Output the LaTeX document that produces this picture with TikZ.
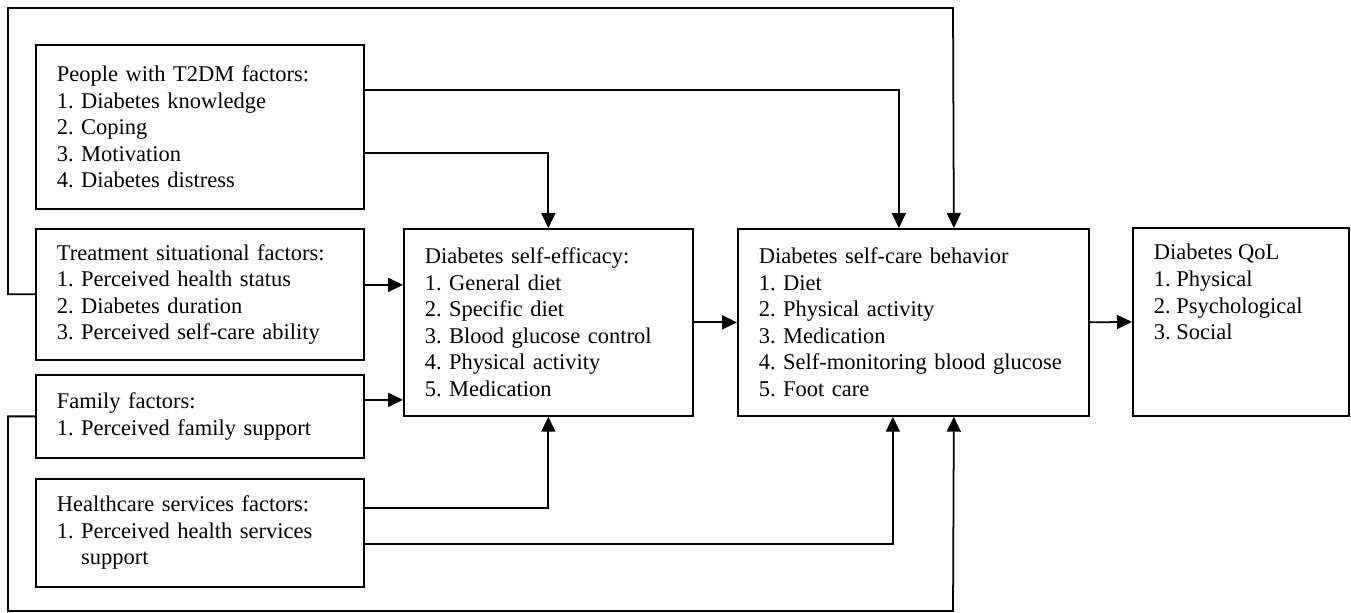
\documentclass[tikz,border=0pt]{standalone}
\usepackage{fontspec}
\setmainfont{Liberation Serif}
\usetikzlibrary{arrows.meta, calc}

\begin{document}
\begin{tikzpicture}[x=0.02cm, y=-0.02cm,
    >={Triangle[length=0.3cm, width=0.28cm]},
    factor/.style={draw, line width=1pt, anchor=north west, align=left,
        inner xsep=0.42cm, inner ysep=0pt,
        font=\fontsize{12.8}{15.1}\selectfont},
    link/.style={->, line width=1pt}]

    \useasboundingbox (0,0) rectangle (1351,612);

    % =================================================================
    % LEFT COLUMN: THE FOUR GROUPS OF FACTORS
    % =================================================================
    \node[factor, text width=5.72cm, minimum height=3.28cm] (people) at (35,44)
        {People with T2DM factors:\\1.\ Diabetes knowledge\\2.\ Coping\\3.\ Motivation\\4.\ Diabetes distress};
    \node[factor, text width=5.72cm, minimum height=2.62cm] (treat) at (35,228)
        {Treatment situational factors:\\1.\ Perceived health status\\2.\ Diabetes duration\\3.\ Perceived self-care ability};
    \node[factor, text width=5.72cm, minimum height=1.66cm] (family) at (35,374)
        {Family factors:\\1.\ Perceived family support};
    \node[factor, text width=5.72cm, minimum height=2.16cm] (health) at (35,478)
        {Healthcare services factors:\\1.\ Perceived health services\\\phantom{1.\ }support};

    % =================================================================
    % MIDDLE AND RIGHT: EFFICACY, BEHAVIOUR, QoL
    % =================================================================
    \node[factor, text width=4.94cm, minimum height=3.74cm] (efficacy) at (403,228)
        {Diabetes self-efficacy:\\1.\ General diet\\2.\ Specific diet\\3.\ Blood glucose control\\4.\ Physical activity\\5.\ Medication};
    \node[factor, text width=6.18cm, minimum height=3.74cm] (selfcare) at (737,228)
        {Diabetes self-care behavior\\1.\ Diet\\2.\ Physical activity\\3.\ Medication\\4.\ Self-monitoring blood glucose\\5.\ Foot care};
    \node[factor, inner ysep=0.33cm, minimum height=3.76cm] (qol) at (1132,227)
        {\parbox[c][3.1cm][t]{3.48cm}{Diabetes QoL\\1.\ Physical\\2.\ Psychological\\3.\ Social}};

    % corners of the two long loops
    \coordinate (toploop) at (953,8);
    \coordinate (botloop) at (953,611);

    % points where the arrows leave the boxes
    \coordinate (p1) at ([yshift=0.74cm]people.east);
    \coordinate (p2) at ([yshift=-0.52cm]people.east);
    \coordinate (t1) at ([yshift=0.19cm]treat.east);
    \coordinate (f1) at ([yshift=0.33cm]family.east);
    \coordinate (h1) at ([yshift=0.5cm]health.east);
    \coordinate (h2) at ([yshift=-0.22cm]health.east);

    % arrows from the factors
    \draw[link] (p1) -| ([xshift=-0.29cm]selfcare.north);
    \draw[link] (p2) -| (efficacy.north);
    \draw[link] (t1) -- (t1 -| efficacy.west);
    \draw[link] (f1) -- (f1 -| efficacy.west);
    \draw[link] (h1) -| (efficacy.south);
    \draw[link] (h2) -| ([xshift=-0.41cm]selfcare.south);

    % long loops round the left column
    \draw[link] (treat.west) -- ++(-27,0) |- (toploop) -- ([xshift=0.81cm]selfcare.north);
    \draw[link] (family.west) -- ++(-27,0) |- (botloop) -- ([xshift=0.81cm]selfcare.south);

    % main chain
    \draw[link] (efficacy.east) -- (selfcare.west);
    \draw[link] (selfcare.east) -- (qol.west);

\end{tikzpicture}
\end{document}
